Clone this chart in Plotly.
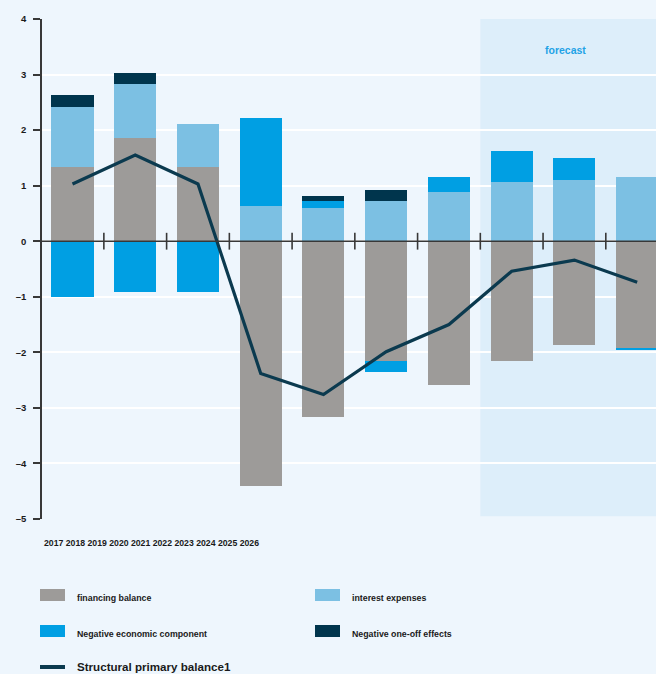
import plotly.graph_objects as go

# Years and component values (percentage points)
years = ["2017", "2018", "2019", "2020", "2021", "2022", "2023", "2024", "2025", "2026"]
financing_balance = [1.33, 1.86, 1.33, -4.41, -3.16, -2.16, -2.59, -2.15, -1.86, -1.92]
interest_expenses = [1.08, 0.97, 0.78, 0.63, 0.59, 0.73, 0.88, 1.06, 1.11, 1.15]
economic_component = [-1.00, -0.91, -0.91, 1.58, 0.14, -0.19, 0.28, 0.57, 0.38, -0.04]
one_off_effects = [0.23, 0.20, 0.00, 0.00, 0.09, 0.19, 0.00, 0.00, 0.00, 0.00]
structural_primary = [1.03, 1.55, 1.03, -2.38, -2.76, -1.99, -1.50, -0.54, -0.34, -0.74]
y_ticks = [4, 3, 2, 1, 0, -1, -2, -3, -4, -5]
forecast_start = "2024"

GREY = "#9d9b99"
LIGHT = "#7cc0e3"
BRIGHT = "#009fe3"
NAVY = "#00354d"
LINE = "#0b3a4f"
BG = "#eef6fd"
SHADE = "#ddeefa"
AXIS = "#383838"
FONT = "Liberation Sans, Arial, sans-serif"

x = list(range(len(years)))

fig = go.Figure()
series = [
    ("financing balance", financing_balance, GREY),
    ("interest expenses", interest_expenses, LIGHT),
    ("Negative economic component", economic_component, BRIGHT),
    ("Negative one-off effects", one_off_effects, NAVY),
]
for name, vals, col in series:
    fig.add_trace(go.Bar(x=x, y=vals, name=name, marker=dict(color=col, line=dict(width=0)),
                         width=0.67, showlegend=False, hoverinfo="skip"))

fig.add_trace(go.Scatter(x=x, y=structural_primary, mode="lines", name="Structural primary balance1",
                         line=dict(color=LINE, width=3.2), showlegend=False, hoverinfo="skip"))

# tick marks crossing the zero line, between the year slots
fig.add_trace(go.Scatter(x=[i + 0.5 for i in x[:-1]], y=[0] * (len(x) - 1), mode="markers",
                         marker=dict(symbol="line-ns", size=12, line=dict(width=1.6, color=AXIS)),
                         showlegend=False, hoverinfo="skip"))

fs = years.index(forecast_start) - 0.5
fig.add_shape(type="rect", xref="x", yref="y", x0=fs, x1=len(years), y0=-4.95, y1=4,
              fillcolor=SHADE, line=dict(width=0), layer="below")
fig.add_shape(type="line", xref="paper", yref="y", x0=0, x1=1, y0=0, y1=0,
              line=dict(color=AXIS, width=1.6), layer="above")

fig.add_annotation(x=(fs + len(years) - 1) / 2 + 0.1, y=3.44, xref="x", yref="y", text="<b>forecast</b>",
                   showarrow=False, font=dict(family=FONT, size=10.5, color="#1fa2e6"))

# year labels row
fig.add_annotation(x=0, y=-0.048, xref="paper", yref="paper", xanchor="left", yanchor="middle",
                   text="<b>" + " ".join(years) + "</b>", showarrow=False,
                   font=dict(family=FONT, size=8.7, color="#1a1a1a"))

# legend
H = 500.0
def py(pix):
    return (519 - pix) / H

def px(pix):
    return (pix - 42) / 614.0

legend_items = [
    (series[0][0], GREY, 40, 589),
    (series[1][0], LIGHT, 315, 589),
    (series[2][0], BRIGHT, 40, 625),
    (series[3][0], NAVY, 315, 625),
]
for name, col, lx, ly in legend_items:
    fig.add_shape(type="rect", xref="paper", yref="paper", x0=px(lx), x1=px(lx + 25),
                  y0=py(ly + 12), y1=py(ly), fillcolor=col, line=dict(width=0))
    fig.add_annotation(x=px(lx + 35), y=py(ly + 8.5), xref="paper", yref="paper", xanchor="left",
                       yanchor="middle", text="<b>" + name + "</b>", showarrow=False,
                       font=dict(family=FONT, size=8.8, color="#1a1a1a"))
fig.add_shape(type="line", xref="paper", yref="paper", x0=px(40), x1=px(65), y0=py(667), y1=py(667),
              line=dict(color=LINE, width=4))
fig.add_annotation(x=px(75), y=py(666), xref="paper", yref="paper", xanchor="left", yanchor="middle",
                   text="<b>Structural primary balance1</b>", showarrow=False,
                   font=dict(family=FONT, size=11.6, color="#1a1a1a"))

fig.update_layout(
    width=656, height=674,
    margin=dict(l=42, r=0, t=19, b=155),
    paper_bgcolor=BG, plot_bgcolor=BG,
    barmode="relative", bargap=0,
    showlegend=False,
    xaxis=dict(range=[-0.486, 9.3], showticklabels=False, showgrid=False, zeroline=False,
               showline=False, ticks="", fixedrange=True),
    yaxis=dict(range=[-5, 4], tickvals=y_ticks,
               ticktext=["<b>" + str(v).replace("-", "\u2013") + "</b>" for v in y_ticks],
               showgrid=True, gridcolor="#ffffff", gridwidth=1.5, zeroline=False,
               showline=True, linecolor=AXIS, linewidth=1.6,
               ticks="outside", ticklen=7, tickwidth=1.5, tickcolor=AXIS,
               ticklabelstandoff=5,
               tickfont=dict(family=FONT, size=9.5, color="#1a1a1a"),
               fixedrange=True),
)

fig.write_html("out.html")
